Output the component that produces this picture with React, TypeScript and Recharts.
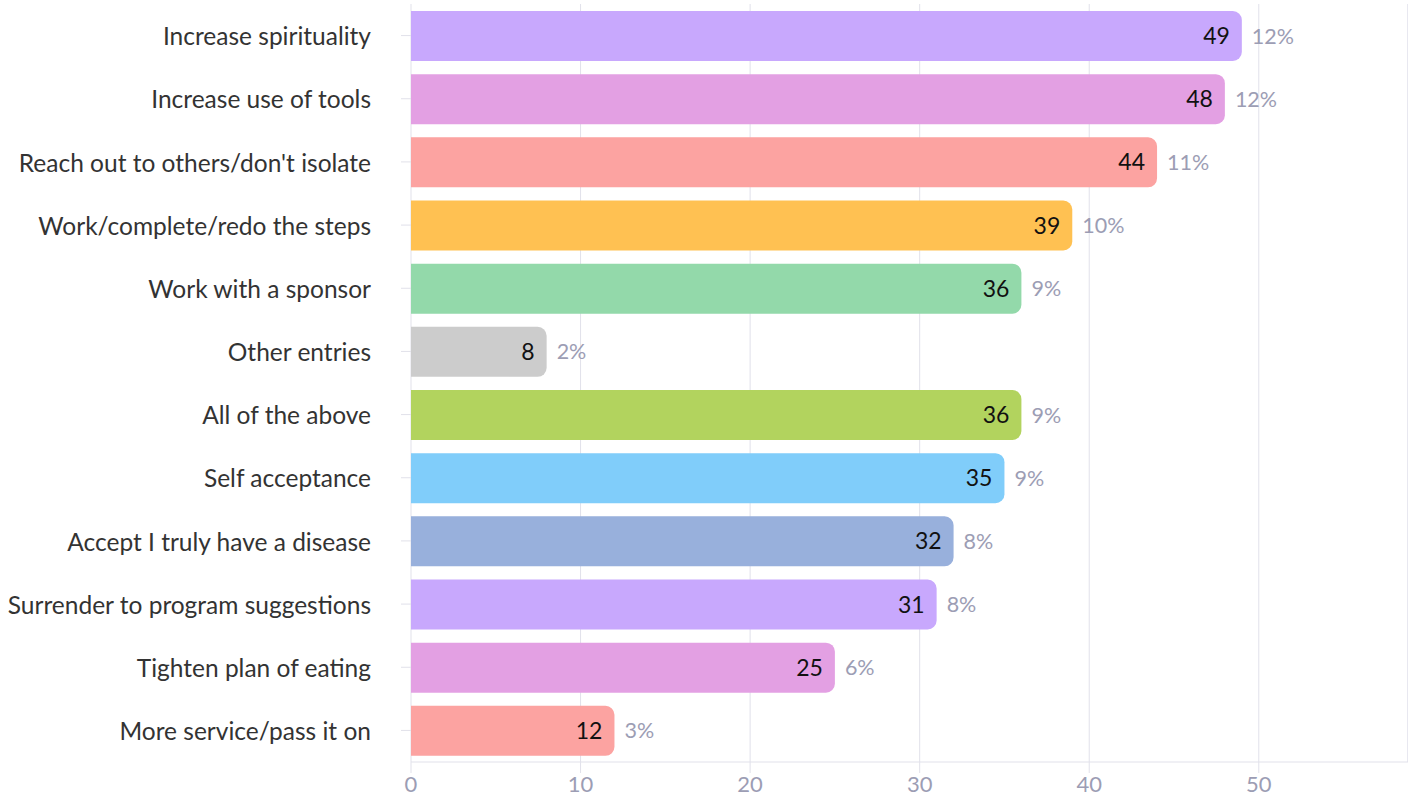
import { BarChart, Bar, XAxis, YAxis, CartesianGrid, Cell, LabelList, ReferenceLine } from "recharts";

const categories = [
  "Increase spirituality",
  "Increase use of tools",
  "Reach out to others/don't isolate",
  "Work/complete/redo the steps",
  "Work with a sponsor",
  "Other entries",
  "All of the above",
  "Self acceptance",
  "Accept I truly have a disease",
  "Surrender to program suggestions",
  "Tighten plan of eating",
  "More service/pass it on",
];

const counts = [49, 48, 44, 39, 36, 8, 36, 35, 32, 31, 25, 12];

const percents = ["12%", "12%", "11%", "10%", "9%", "2%", "9%", "9%", "8%", "8%", "6%", "3%"];

const barColors = [
  "#c8a8fd",
  "#e3a0e3",
  "#fca3a1",
  "#ffc152",
  "#93d9aa",
  "#cccccc",
  "#b2d35e",
  "#80cdfa",
  "#98b0dc",
  "#c8a8fd",
  "#e3a0e3",
  "#fca3a1",
];

const xTicks = [0, 10, 20, 30, 40, 50];

const data = categories.map((name, i) => ({
  name,
  count: counts[i],
  pct: percents[i],
}));

const FONT = "Lato, 'Open Sans', sans-serif";
const GRID = "#e1e1ea";
const MUTED = "#9c9db4";

const App = () => {
  return (
    <div style={{ position: "absolute", left: 0, top: 0, fontFamily: FONT }}>
      <BarChart
        width={1408}
        height={799}
        data={data}
        layout="vertical"
        margin={{ top: 4, right: 0, bottom: 0, left: 0 }}
      >
        <CartesianGrid horizontal={false} stroke={GRID} />
        <XAxis
          type="number"
          domain={[0, 58.8]}
          ticks={xTicks}
          allowDataOverflow
          height={37}
          stroke={GRID}
          tickSize={11}
          tickMargin={3}
          tick={{ fill: MUTED, fontSize: 22, fontFamily: FONT }}
        />
        <YAxis
          type="category"
          dataKey="name"
          width={411}
          axisLine={false}
          stroke={GRID}
          tickSize={10}
          tickMargin={30}
          tick={{ fill: "#333333", fontSize: 24.5, fontFamily: FONT, dy: 1 }}
        />
        <ReferenceLine x={58.8} stroke={GRID} />
        <Bar dataKey="count" barSize={50} radius={[0, 9, 9, 0]} isAnimationActive={false}>
          {data.map((d, i) => (
            <Cell key={d.name} fill={barColors[i]} />
          ))}
          <LabelList
            dataKey="count"
            position="insideRight"
            offset={12}
            fill="#111111"
            fontSize={23}
            fontFamily={FONT}
          />
          <LabelList
            dataKey="pct"
            position="right"
            offset={10}
            fill={MUTED}
            fontSize={21.5}
            fontFamily={FONT}
          />
        </Bar>
      </BarChart>
    </div>
  );
};

export default App;
